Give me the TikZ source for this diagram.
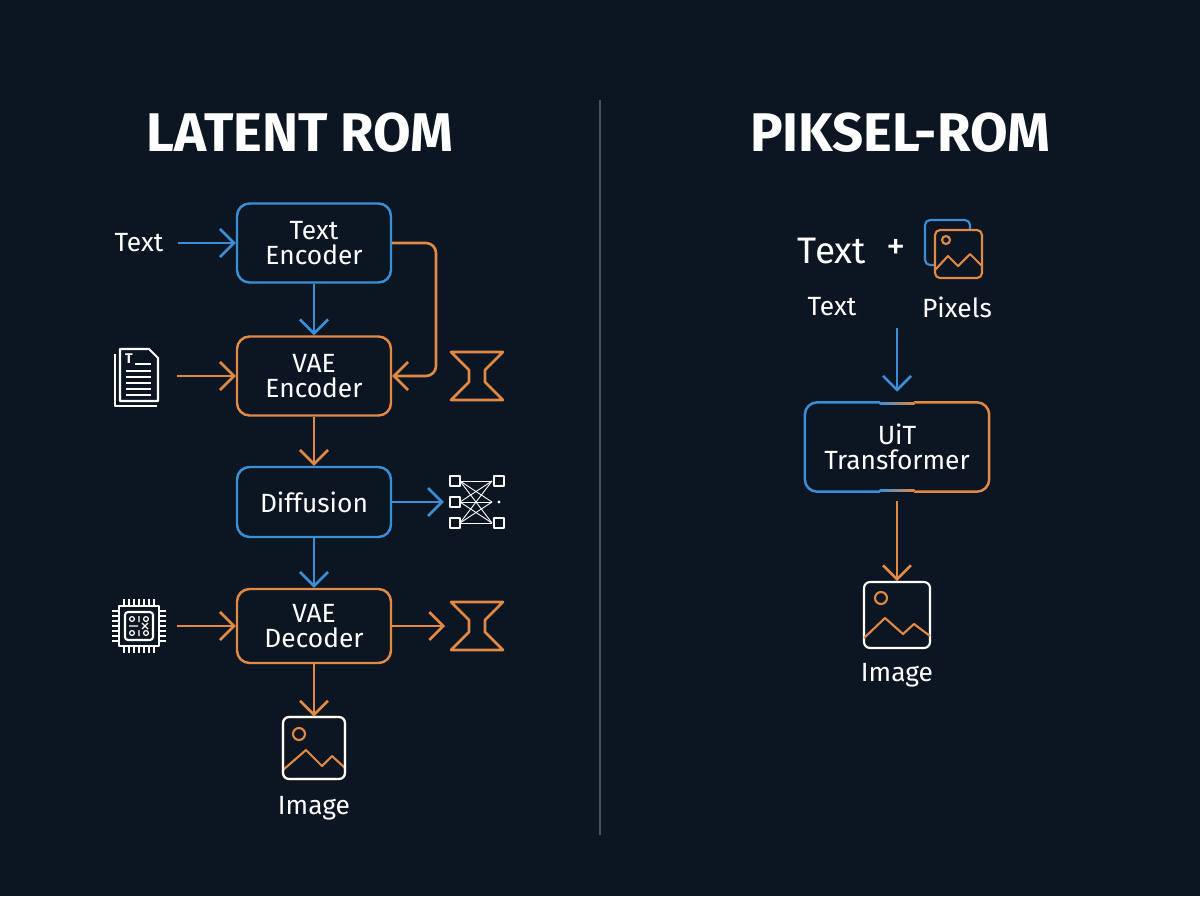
\documentclass[tikz,border=0pt]{standalone}
\usepackage{fontspec}
\setmainfont{Fira Sans}
\usetikzlibrary{arrows.meta, positioning}
\definecolor{bgdark}{HTML}{0C1522}
\definecolor{cblue}{HTML}{3B8FD6}
\definecolor{corange}{HTML}{E08A45}
\definecolor{cgrid}{HTML}{4A5260}
\begin{document}
\begin{tikzpicture}[x=0.02cm, y=-0.02cm, >={Straight Barb[length=2.8mm,width=5.6mm]},
  box/.style={rectangle, rounded corners=2.5mm, line width=1.4pt, fill=bgdark,
    minimum width=3.08cm, minimum height=1.58cm, text=white, align=center,
    font=\fontsize{15}{17}\selectfont, inner sep=0pt},
  lbl/.style={text=white, font=\fontsize{15}{17}\selectfont, inner sep=1pt},
  title/.style={text=white, font=\fontsize{31}{33}\selectfont\bfseries},
  flow/.style={->, line width=1.5pt},
  icon/.style={line width=1.2pt, line join=round},
  pics/imgicon/.style={code={
      \draw[icon, rounded corners=1.2mm, #1] (-31,-31) rectangle (31,31);
      \draw[icon, #1] (-15,-14) circle (6);
      \draw[icon, #1] (-31,22) -- (-8,2) -- (8,18) -- (18,8) -- (31,20);}},
  pics/hourglass/.style={code={
      \draw[icon, corange, line width=1.5pt] (-26,-24) -- (26,-24) -- (8,-6) -- (8,6) -- (26,24)
        -- (-26,24) -- (-8,6) -- (-8,-6) -- cycle;}},
  pics/neticon/.style={code={
      \foreach \yy in {-21,0,21} \draw[icon, white, line width=0.9pt] (-27,\yy-5) rectangle (-17,\yy+5);
      \foreach \yy in {-21,21} \draw[icon, white, line width=0.9pt] (17,\yy-5) rectangle (27,\yy+5);
      \fill[white] (22,0) circle (1.6);
      \foreach \ya in {-21,0,21} \foreach \yb in {-21,0,21}
        \draw[white, line width=0.5pt] (-17,\ya) -- (15,\yb);}},
  pics/docicon/.style={code={
      \draw[icon, white] (-24,-22) -- (-24,30) -- (18,30);
      \draw[icon, white, fill=bgdark] (-19,-27) -- (10,-27) -- (19,-18) -- (19,25) -- (-19,25) -- cycle;
      \node[white, font=\fontsize{8}{8}\selectfont\bfseries, inner sep=0pt] at (-10,-17) {T};
      \draw[white, line width=0.8pt] (-4,-12) -- (12,-12);
      \foreach \yy in {-5,1,7,13,19} \draw[white, line width=0.8pt] (-13,\yy) -- (12,\yy);}},
  pics/chipicon/.style={code={
      \draw[icon, white] (-20,-20) rectangle (20,20);
      \draw[icon, white, rounded corners=0.6mm] (-14,-14) rectangle (14,14);
      \foreach \t in {-15,-10,...,15} {
        \draw[white, line width=0.7pt] (\t,-21) -- (\t,-27);
        \draw[white, line width=0.7pt] (\t,21) -- (\t,27);
        \draw[white, line width=0.7pt] (-21,\t) -- (-27,\t);
        \draw[white, line width=0.7pt] (21,\t) -- (27,\t);}
      \foreach \yy in {-7,7} {
        \draw[white, line width=0.7pt] (-7,\yy) circle (2.4) (7,\yy) circle (2.4) (0,\yy-3) -- (0,\yy+3);}
      \draw[white, line width=0.7pt] (-10,0) -- (-1,0) (3,-3) -- (9,3) (3,3) -- (9,-3);}}
]
% background
\fill[bgdark] (0,0) rectangle (1200,896);
\draw[cgrid, line width=0.8pt] (600,100) -- (600,835);

% latent side
\node[title] (tl) at (300,133) {LATENT ROM};
\node[box, draw=cblue] (tenc) at (314,243) {Text\\[-3pt]Encoder};
\node[box, draw=corange] (venc) at (314,376) {VAE\\[-3pt]Encoder};
\node[box, draw=cblue, minimum height=1.4cm] (diff) at (314,502) {Diffusion};
\node[box, draw=corange, minimum height=1.48cm] (vdec) at (314,626) {VAE\\[-3pt]Decoder};
\node[lbl] (tin) at (139,243) {Text};
\node[minimum size=1.1cm, inner sep=0pt] (doc) at (139,376) {};
\pic at (doc) {docicon};
\node[minimum size=1.1cm, inner sep=0pt] (chip) at (139,626) {};
\pic at (chip) {chipicon};
\node[minimum size=1.05cm, inner sep=0pt] (hg1) at (477,376) {};
\pic at (hg1) {hourglass};
\node[minimum size=1.05cm, inner sep=0pt] (hg2) at (477,626) {};
\pic at (hg2) {hourglass};
\node[minimum width=1.1cm, minimum height=1.05cm, inner sep=0pt] (net) at (477,502) {};
\pic at (net) {neticon};
\node[minimum size=1.24cm, inner sep=0pt] (img1) at (314,748) {};
\pic at (img1) {imgicon=corange};
\draw[icon, white, rounded corners=1.2mm] (283,717) -- (283,779) -- (345,779) -- (345,717) -- cycle;
\node[lbl, below=0.3cm of img1] (il) {Image};

\draw[flow, cblue] ([xshift=7pt]tin.east) -- (tenc);
\draw[flow, corange] ([xshift=6pt]doc.east) -- (venc);
\draw[flow, corange] ([xshift=6pt]chip.east) -- (vdec);
\draw[flow, cblue] (tenc) -- (venc);
\draw[flow, corange, rounded corners=2mm] (tenc.east) -- (436,243) -- (436,376) -- (venc.east);
\draw[flow, corange] (venc) -- (diff);
\draw[flow, cblue] (diff) -- (vdec);
\draw[flow, cblue] (diff.east) -- ([xshift=-3pt]net.west);
\draw[flow, corange] (vdec.east) -- ([xshift=-3pt]hg2.west);
\draw[flow, corange] (vdec) -- (img1);

% pixel side
\node[title] (tr) at (900,133) {PIKSEL-ROM};
\node[text=white, font=\fontsize{21}{23}\selectfont] (tbig) at (832,251) {Text};
\node[text=white, font=\fontsize{22}{24}\selectfont] (plus) at (896,249) {+};
\draw[icon, cblue, rounded corners=1mm] (925,220) rectangle (970,265);
\draw[icon, corange, fill=bgdark, rounded corners=1mm] (935,230) rectangle (982,278);
\draw[icon, corange] (946,240) circle (4);
\draw[icon, corange] (935,270) -- (948,256) -- (958,266) -- (970,254) -- (982,266);
\node[lbl] (tsm) at (832,307) {Text};
\node[lbl] (pix) at (957,307) {Pixels};
\node[box, minimum width=3.64cm, minimum height=1.74cm] (uit) at (897,447) {UiT\\[-3pt]Transformer};
\node[minimum size=1.34cm, inner sep=0pt] (img2) at (897,615) {};
\draw[flow, cblue] (897,328) -- ([yshift=6pt]uit.north);
\draw[flow, corange] ([yshift=-5pt]uit.south) -- (img2);
\begin{scope}
  \clip (790,390) rectangle (880,505);
  \draw[cblue, line width=1.4pt, rounded corners=2.5mm] (uit.south west) rectangle (uit.north east);
\end{scope}
\begin{scope}
  \clip (914,390) rectangle (1000,505);
  \draw[corange, line width=1.4pt, rounded corners=2.5mm] (uit.south west) rectangle (uit.north east);
\end{scope}
\fill[left color=cblue, right color=corange] (879.5,402.1) rectangle (914.5,404.9);
\fill[left color=cblue, right color=corange] (879.5,489.1) rectangle (914.5,491.9);
\draw[icon, white, rounded corners=1.2mm] (864,582) rectangle (930,648);
\draw[icon, corange] (881,598) circle (6);
\draw[icon, corange] (864,638) -- (885,618) -- (903,634) -- (914,624) -- (930,636);
\node[lbl] (il2) at (897,675) {Image};
\end{tikzpicture}
\end{document}
